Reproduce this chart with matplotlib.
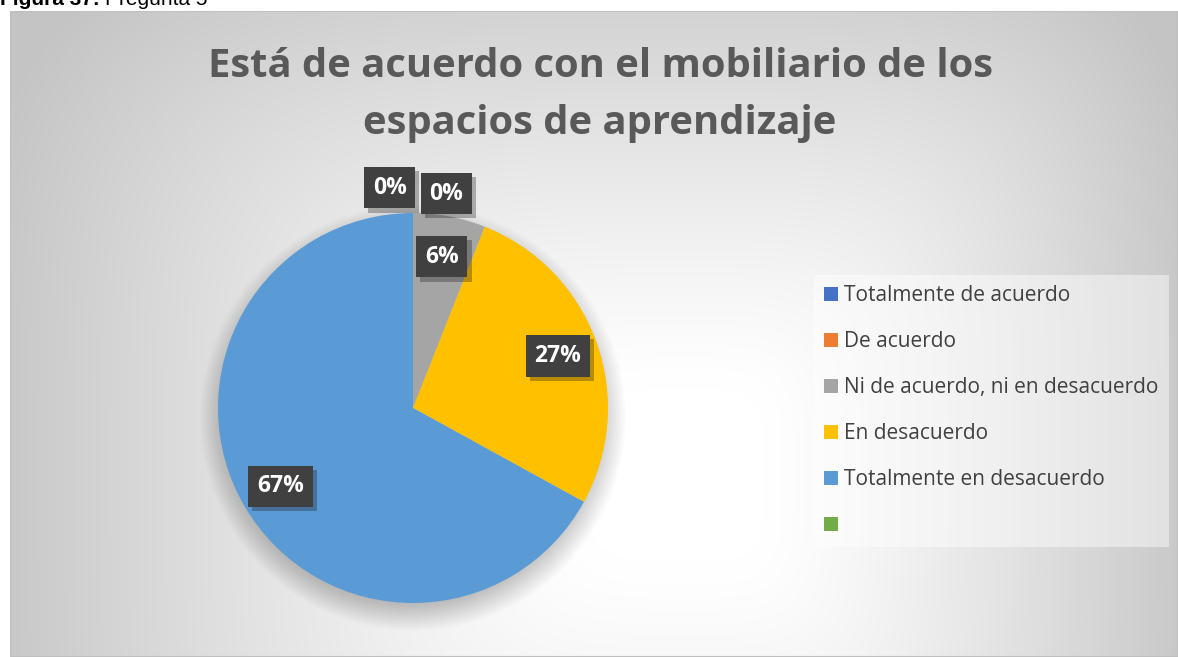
import numpy as np
import matplotlib.pyplot as plt
from matplotlib.patches import Patch, Circle, Rectangle
from matplotlib import patheffects as pe

plt.rcParams['font.family'] = ['Open Sans', 'DejaVu Sans']

# data
categorias = ['Totalmente de acuerdo', 'De acuerdo', 'Ni de acuerdo, ni en desacuerdo',
              'En desacuerdo', 'Totalmente en desacuerdo', '']
valores = [0, 0, 6, 27, 67, 0]
etiquetas = ['0%', '0%', '6%', '27%', '67%', None]
colores = ['#4472C4', '#ED7D31', '#A5A5A5', '#FFC000', '#5B9BD5', '#70AD47']
titulo = 'Está de acuerdo con el mobiliario de los\nespacios de aprendizaje'

W, H = 1178, 657
fig = plt.figure(figsize=(W/100, H/100), dpi=100)

# chart area background: grey-white gradient, lightest right of the pie
bg = fig.add_axes([10/W, 0, 1 - 10/W, 1 - 11/H])
xx, yy = np.meshgrid(np.linspace(10, W, 500), np.linspace(11, H, 300))
cx, cy = 690, 470
ax_ = np.where(xx < cx, 720, 520)
by_ = np.where(yy < cy, 560, 640)
d = ((np.abs(xx - cx)/ax_)**4 + (np.abs(yy - cy)/by_)**4)**0.25
g = 1 - 0.23*np.clip((d - 0.15)/0.85, 0, 1)**1.2
bg.imshow(np.dstack([g, g, g]), extent=(10, W, H, 11), aspect='auto', interpolation='bicubic')
bg.add_patch(Rectangle((10, 11), W - 10, H - 11, fill=False, ec='#bfbfbf', lw=1.5))
bg.set_xlim(10, W)
bg.set_ylim(H, 11)
bg.axis('off')

# caption above the chart (cut at the top, as in the document)
t1 = fig.text(0, 1 - 5/H, 'Figura 37:', family='Liberation Sans', weight='bold',
              fontsize=15, va='baseline', ha='left')
fig.canvas.draw()
bb = t1.get_window_extent()
fig.text((bb.x1 + 5)/W, 1 - 5/H, 'Pregunta 5', family='Liberation Sans',
         fontsize=15, va='baseline', ha='left')

fig.text(600/W, 1 - 95/H, titulo, ha='center', va='center', fontsize=28.8,
         weight='bold', color='#595959', linespacing=1.62)

# pie: centre (413, 408) px, radius 195 px
R = 195
lim = 1.2
ax = fig.add_axes([(413 - lim*R)/W, (H - 408 - lim*R)/H, 2*lim*R/W, 2*lim*R/H])

# soft shadow under the pie
for k in range(14):
    ax.add_patch(Circle((0.0, -0.05), 0.96 + 0.01*k, color='black', alpha=0.016, lw=0, zorder=0))

ax.pie(valores, colors=colores, startangle=90, counterclock=False, radius=1,
       wedgeprops=dict(linewidth=0), normalize=True)
ax.set_xlim(-lim, lim)
ax.set_ylim(-lim, lim)
ax.axis('off')

total = sum(valores)
acum = 0
ceros = 0
for v, lab in zip(valores, etiquetas):
    mid = np.deg2rad(90 - 360*(acum + v/2)/total)
    acum += v
    if lab is None:
        continue
    if v == 0:
        x = 1.13*np.cos(mid) + (-0.12 if ceros == 0 else 0.17)
        y = 1.13*np.sin(mid) + (0.0 if ceros == 0 else -0.03)
        ceros += 1
    else:
        x, y = 0.79*np.cos(mid), 0.79*np.sin(mid)
    t = ax.text(x, y, lab, ha='center', va='center', fontsize=16.5, weight='bold',
                color='white', zorder=5,
                bbox=dict(boxstyle='square,pad=0.38', fc='#404040', ec='none'))
    t.get_bbox_patch().set_path_effects([pe.SimplePatchShadow(offset=(3, -3), alpha=0.3),
                                         pe.Normal()])

handles = [Patch(fc=c, ec='none') for c in colores]
leg = fig.legend(handles, categorias, loc='upper left',
                 bbox_to_anchor=(814/W, 1 - 275/H), fontsize=15.0,
                 handlelength=0.64, handleheight=0.64, handletextpad=0.3,
                 labelspacing=1.2, borderpad=0.5, borderaxespad=0,
                 frameon=True, fancybox=False, labelcolor='#404040')
fr = leg.get_frame()
fr.set_facecolor('white')
fr.set_alpha(0.45)
fr.set_edgecolor('none')

fig.savefig('out.png', dpi=100)
